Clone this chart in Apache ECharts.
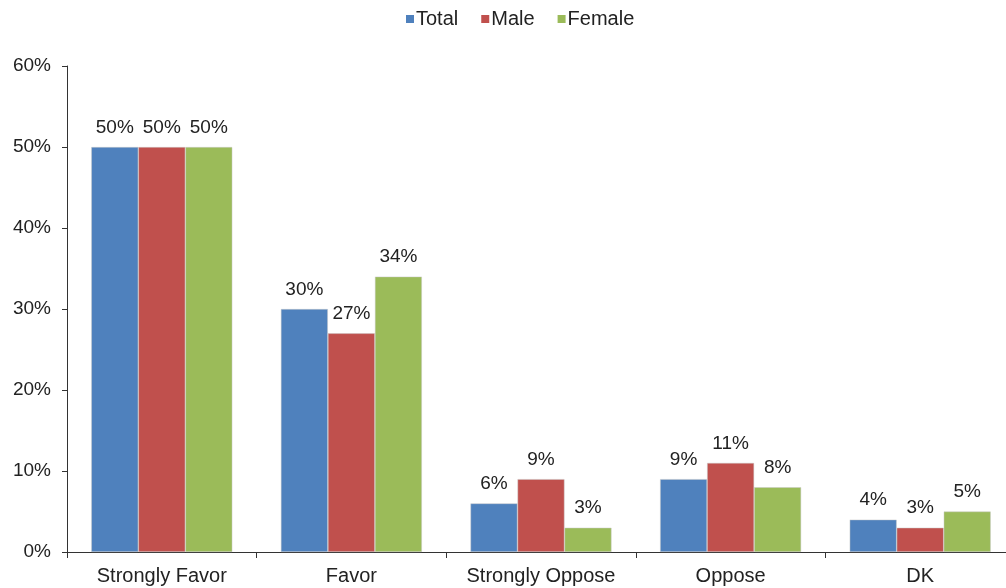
<!DOCTYPE html>
<html><head><meta charset="utf-8">
<script src="https://cdn.jsdelivr.net/npm/echarts@6/dist/echarts.min.js"></script>
<style>html,body{margin:0;padding:0;background:#fff;overflow:hidden;width:1006px;height:588px}#c{width:1015px;height:588px}</style>
</head><body><div id="c"></div>
<script>
var categories = ['Strongly Favor', 'Favor', 'Strongly Oppose', 'Oppose', 'DK'];
var seriesNames = ['Total', 'Male', 'Female'];
var total = [50, 30, 6, 9, 4];
var male = [50, 27, 9, 11, 3];
var female = [50, 34, 3, 8, 5];
var colors = ['#4F81BD', '#C0504D', '#9BBB59'];
var font = '"Liberation Sans", Arial, sans-serif';
var chart = echarts.init(document.getElementById('c'));
function mk(name, data, color) {
  return {
    name: name, type: 'bar', data: data, barGap: '0%', barCategoryGap: '25.6%',
    itemStyle: { color: color, borderColor: 'rgba(200,200,200,0.8)', borderWidth: 0.6 },
    label: { show: true, position: 'top', distance: 10, formatter: '{c}%', color: '#222', fontSize: 19, fontFamily: font },
    animation: false
  };
}
chart.setOption({
  animation: false,
  legend: {
    top: 9, left: 406, padding: 0, itemWidth: 8, itemHeight: 8, itemGap: 23,
    icon: 'rect',
    itemStyle: { borderWidth: 0 },
    textStyle: { fontSize: 20, color: '#222', fontFamily: font, padding: [0, 0, 0, -3] },
    data: seriesNames
  },
  grid: { left: 67, right: 0, top: 66, bottom: 36, containLabel: false },
  xAxis: {
    type: 'category', data: categories,
    axisLine: { lineStyle: { color: '#333', width: 1 } },
    axisTick: { show: true, interval: 0, length: 6, lineStyle: { color: '#333' } },
    axisLabel: { interval: 0, fontSize: 20, color: '#222', fontFamily: font, margin: 14 }
  },
  yAxis: {
    type: 'value', min: 0, max: 60, interval: 10,
    axisLine: { show: true, lineStyle: { color: '#333', width: 1 } },
    axisTick: { show: true, length: 5, lineStyle: { color: '#333' } },
    splitLine: { show: false },
    axisLabel: { formatter: '{value}%', fontSize: 19, color: '#222', fontFamily: font, margin: 16 }
  },
  series: [mk(seriesNames[0], total, colors[0]), mk(seriesNames[1], male, colors[1]), mk(seriesNames[2], female, colors[2])]
});
</script></body></html>
